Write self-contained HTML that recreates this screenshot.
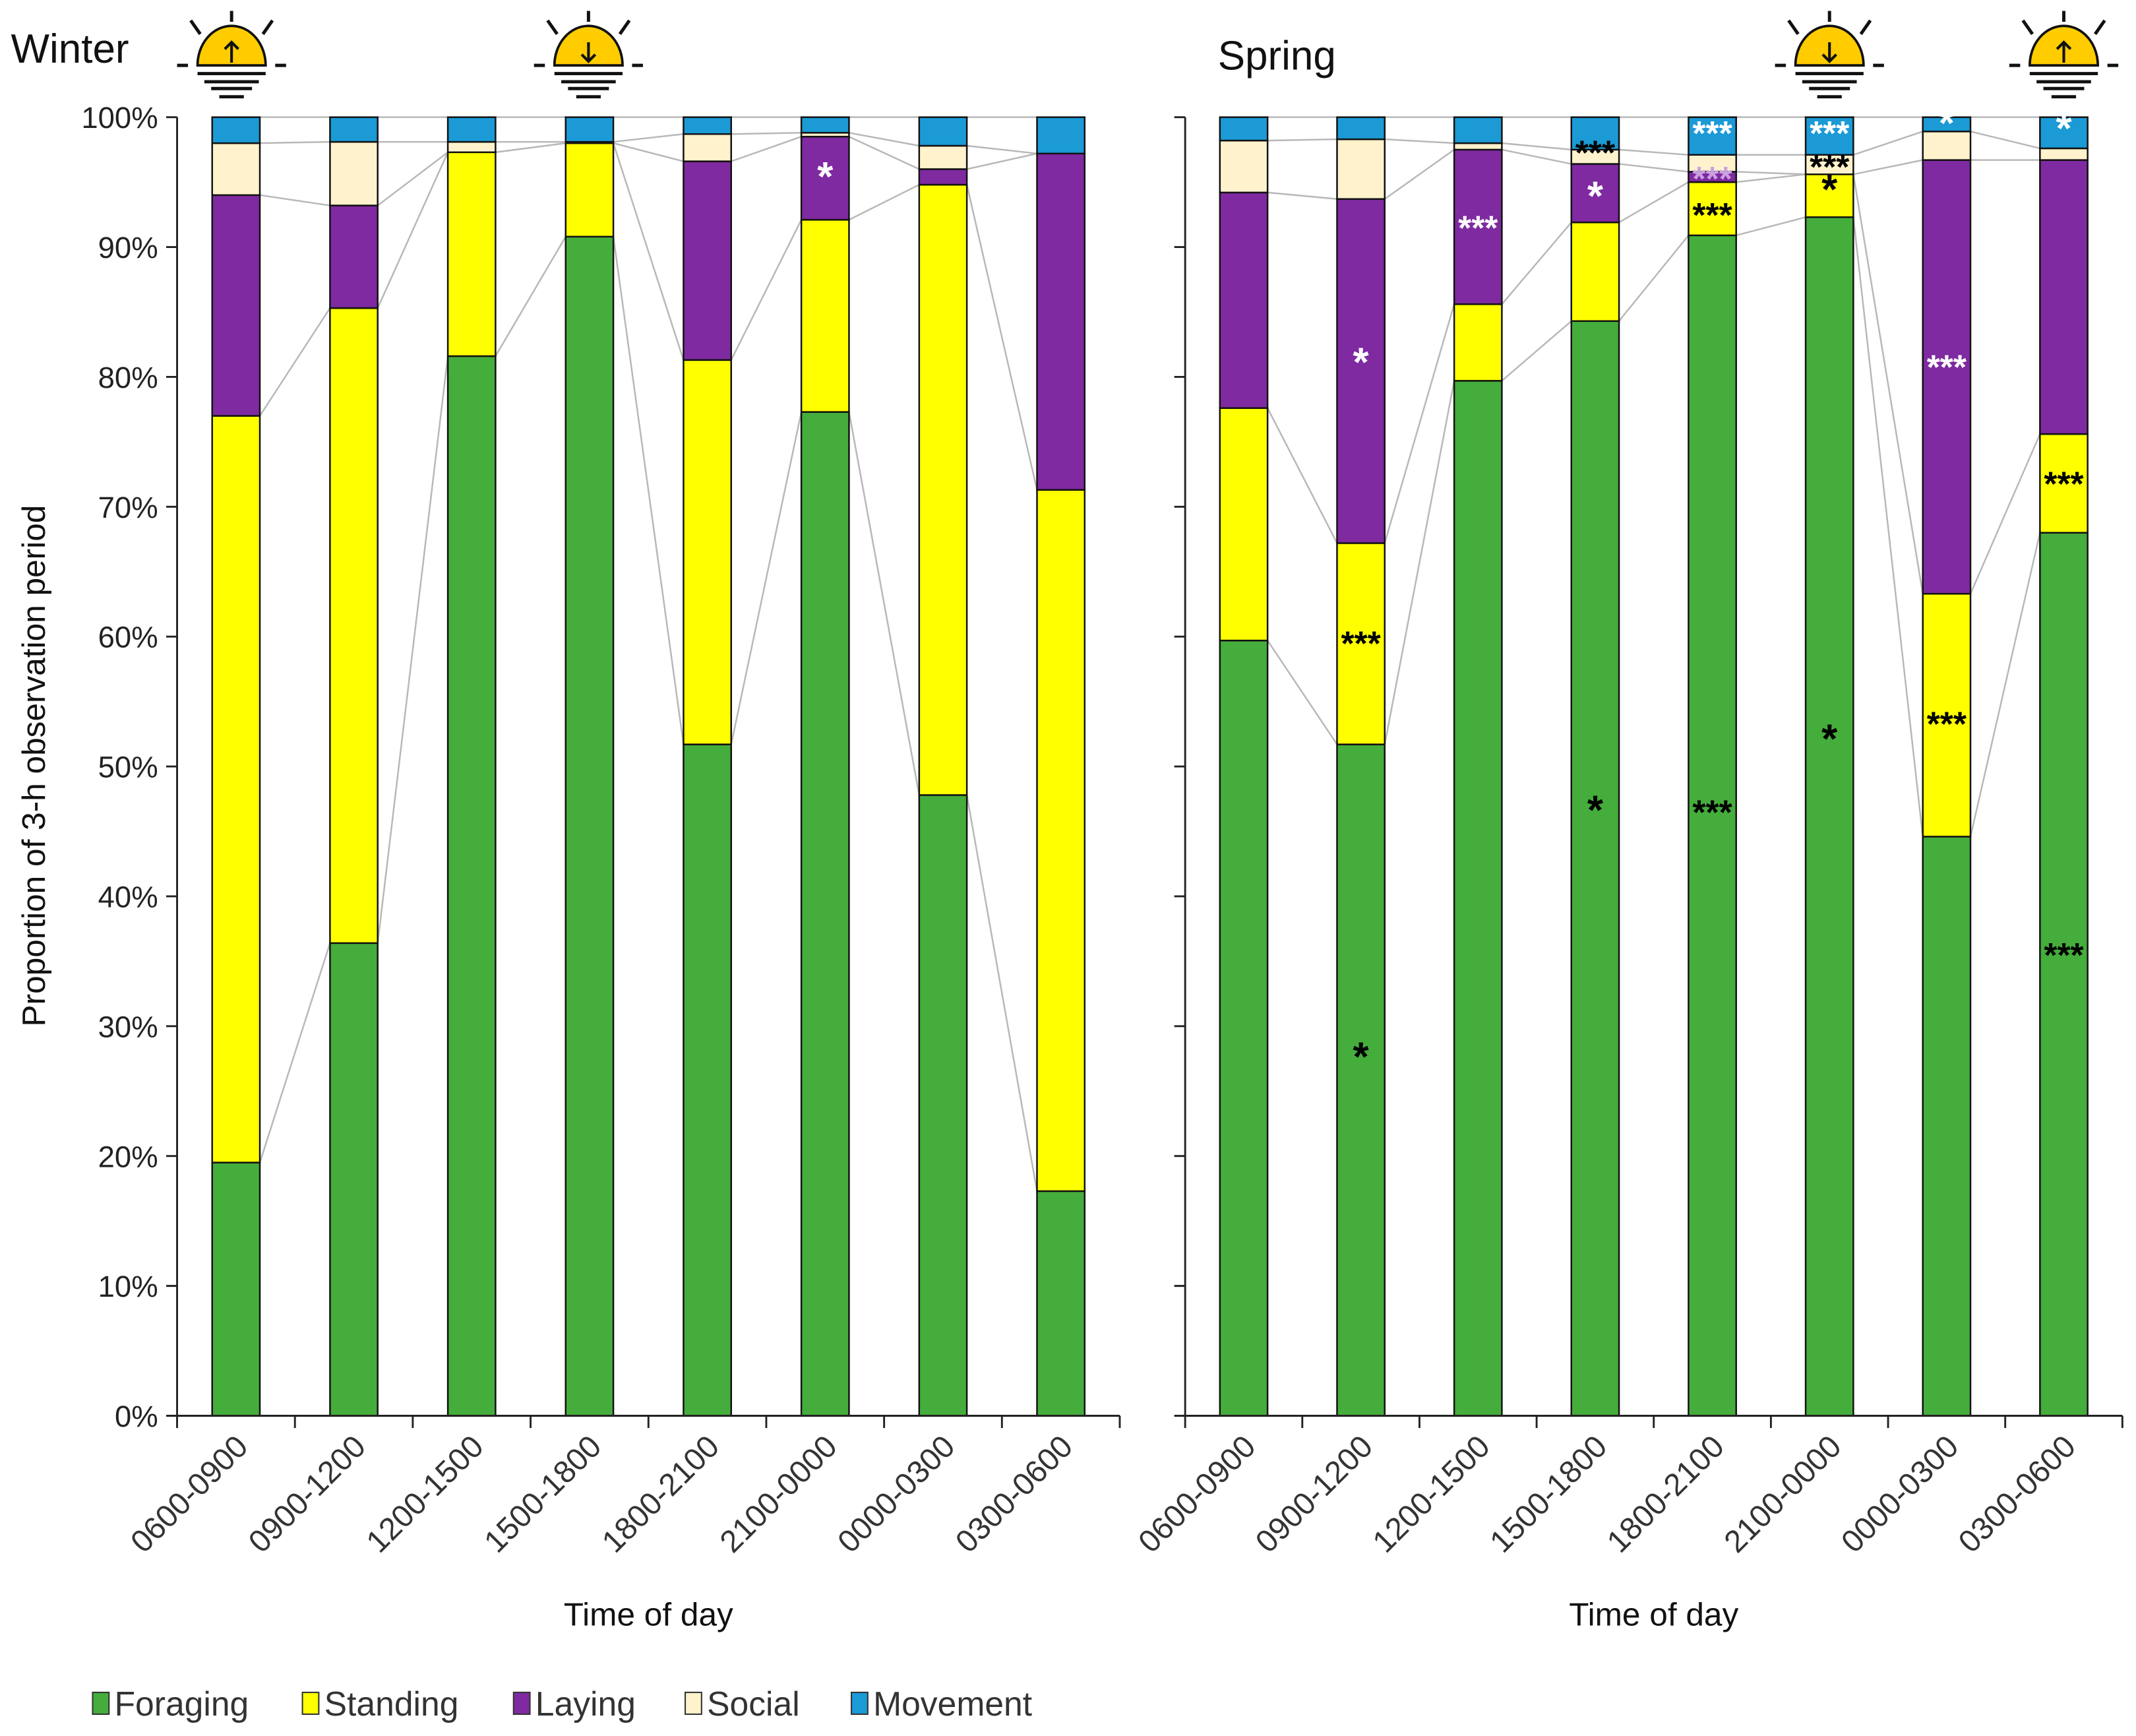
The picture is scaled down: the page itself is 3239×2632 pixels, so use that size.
<!DOCTYPE html>
<html><head><meta charset="utf-8"><style>
html,body{margin:0;padding:0;background:#fff;}
svg{display:block;font-family:"Liberation Sans",Arial,sans-serif;}
</style></head><body>
<svg id="chart" width="3239" height="2632" viewBox="0 0 1568 1274" preserveAspectRatio="none" xmlns="http://www.w3.org/2000/svg"></svg>
<script>
const categories = ["0600-0900","0900-1200","1200-1500","1500-1800","1800-2100","2100-0000","0000-0300","0300-0600"];
const seriesNames = ["Foraging","Standing","Laying","Social","Movement"];
const seriesColors = ["#45ad3b","#ffff00","#7f2aa0","#fff2cc","#1b9ad6"];
// percentages per behaviour (winter)
const winterForaging = [19.5,36.4,81.6,90.8,51.7,77.3,47.8,17.3];
const winterStanding = [57.5,48.9,15.7,7.2,29.6,14.8,47.0,54.0];
const winterLaying   = [17.0,7.9,0.0,0.0,15.3,6.4,1.2,25.9];
const winterSocial   = [4.0,4.9,0.8,0.1,2.1,0.3,1.8,0.0];
const winterMovement = [2.0,1.9,1.9,1.9,1.3,1.2,2.2,2.8];
// spring
const springForaging = [59.7,51.7,79.7,84.3,90.9,92.3,44.6,68.0];
const springStanding = [17.9,15.5,5.9,7.6,4.1,3.3,18.7,7.6];
const springLaying   = [16.6,26.5,11.9,4.5,0.8,0.0,33.4,21.1];
const springSocial   = [4.0,4.6,0.5,1.1,1.3,1.5,2.2,0.9];
const springMovement = [1.8,1.7,2.0,2.5,2.9,2.9,1.1,2.4];
const yTicks = [0,10,20,30,40,50,60,70,80,90,100];
// significance marks: [bar index, y%, label, colour]
const winterMarks = [[5,95.3,"*","#fff"]];
const springMarks = [
 [1,27.5,"*","#000"],[1,59.5,"***","#000"],[1,81,"*","#fff"],
 [2,91.5,"***","#fff"],
 [3,46.5,"*","#000"],[3,93.8,"*","#fff"],[3,97.3,"***","#000"],
 [4,46.5,"***","#000"],[4,92.5,"***","#000"],[4,95.3,"***","#c9a0e0"],[4,98.8,"***","#fff"],
 [5,52,"*","#000"],[5,94.3,"*","#000"],[5,96.2,"***","#000"],[5,98.8,"***","#fff"],
 [6,53.3,"***","#000"],[6,80.8,"***","#fff"],[6,99.4,"*","#fff"],
 [7,35.5,"***","#000"],[7,71.8,"***","#000"],[7,99,"*","#fff"]
];

const NS="http://www.w3.org/2000/svg";
const svg=document.getElementById('chart');
function el(tag,attrs,parent){const e=document.createElementNS(NS,tag);for(const k in attrs)e.setAttribute(k,attrs[k]);(parent||svg).appendChild(e);return e;}
const Y0=1039,Y100=86;
function yScale(v){return Y0-(Y0-Y100)*v/100;}

function drawPanel(x0,x1,data,marks,name,showLabels,titleX){
  const g=el('g',{});
  
  
  const bw=(x1-x0)/categories.length;
  function xc(i){return x0+bw*(i+0.5);}
  const half=17.5;
  const cum=categories.map((c,i)=>{let s=0;return data.map(d=>{s+=d[i];return s;});});
  const lines=el('g',{stroke:'#b8b8b8','stroke-width':1.2,fill:'none'},g);
  
  
  for(let i=0;i<categories.length-1;i++){
    for(let k=0;k<5;k++){
      const v1=k<4?cum[i][k]:100, v2=k<4?cum[i+1][k]:100;
      el('line',{x1:xc(i)+half,y1:yScale(v1),x2:xc(i+1)-half,y2:yScale(v2)},lines);
    }
  }
  categories.forEach((c,i)=>{
    let base=0;
    data.forEach((d,k)=>{
      const v=d[i]; if(v<=0){return;}
      const r=el('rect',{x:xc(i)-half,y:yScale(base+v),width:half*2,height:yScale(base)-yScale(base+v),fill:seriesColors[k],stroke:'#111','stroke-width':1.2},g);
      
      
      base+=v;
    });
  });
  marks.forEach(m=>{
    const t=el('text',{x:xc(m[0]),y:yScale(m[1])+9,'text-anchor':'middle','font-size':m[2]==='*'?30:25,'font-weight':'bold',fill:m[3]},g);
    t.textContent=m[2];
    
    
  });
  const ax=el('g',{stroke:'#222','stroke-width':1.4},g);
  
  
  el('line',{x1:x0,y1:Y100,x2:x0,y2:Y0},ax);
  el('line',{x1:x0,y1:Y0,x2:x1,y2:Y0},ax);
  yTicks.forEach(t=>{
    el('line',{x1:x0-8,y1:yScale(t),x2:x0,y2:yScale(t)},ax);
    if(showLabels){
      const tx=el('text',{x:x0-14,y:yScale(t)+8,'text-anchor':'end','font-size':22,fill:'#222',stroke:'none'},g);
      tx.textContent=t+'%';
      
      
    }
  });
  for(let i=0;i<=categories.length;i++) el('line',{x1:x0+bw*i,y1:Y0,x2:x0+bw*i,y2:Y0+9},ax);
  categories.forEach((c,i)=>{
    const tx=el('text',{x:xc(i)+10,y:Y0+24,'text-anchor':'end','font-size':23,fill:'#333',transform:`rotate(-45 ${xc(i)+10} ${Y0+24})`},g);
    tx.textContent=c;
    
    
  });
  const tt=el('text',{x:titleX,y:1193,'text-anchor':'middle','font-size':24,fill:'#111'},g);
  tt.textContent='Time of day';
  
  
}

function sun(cx,up,name){
  const g=el('g',{stroke:'#111','stroke-width':2.4,fill:'none'});
  
  
  const by=48;
  el('path',{d:`M${cx-25} ${by} A25 29 0 0 1 ${cx+25} ${by} Z`,fill:'#ffcc00','stroke-width':1.8},g);
  el('line',{x1:cx,y1:8,x2:cx,y2:16},g);
  el('line',{x1:cx-30,y1:15,x2:cx-23,y2:25},g);
  el('line',{x1:cx+30,y1:15,x2:cx+23,y2:25},g);
  el('line',{x1:cx-40,y1:48,x2:cx-32,y2:48},g);
  el('line',{x1:cx+32,y1:48,x2:cx+40,y2:48},g);
  el('line',{x1:cx-25,y1:54,x2:cx+25,y2:54},g);
  el('line',{x1:cx-20,y1:60,x2:cx+20,y2:60},g);
  el('line',{x1:cx-15,y1:65,x2:cx+15,y2:65},g);
  el('line',{x1:cx-9,y1:71,x2:cx+9,y2:71},g);
  el('line',{x1:cx,y1:up?46:31,x2:cx,y2:up?31:45,'stroke-width':2},g);
  el('path',{d:up?`M${cx-5} 36 L${cx} 31 L${cx+5} 36`:`M${cx-5} 40 L${cx} 45 L${cx+5} 40`,'stroke-width':2},g);
}

drawPanel(130,822,[winterForaging,winterStanding,winterLaying,winterSocial,winterMovement],winterMarks,'winter',true,476);
drawPanel(870,1558,[springForaging,springStanding,springLaying,springSocial,springMovement],springMarks,'spring',false,1214);

sun(170,true,'sunrise-icon-winter');
sun(432,false,'sunset-icon-winter');
sun(1343,false,'sunset-icon-spring');
sun(1515,true,'sunrise-icon-spring');

let t=el('text',{x:8,y:46,'font-size':30,fill:'#111'});t.textContent='Winter';


t=el('text',{x:894,y:51,'font-size':30,fill:'#111'});t.textContent='Spring';


t=el('text',{x:33,y:562,'text-anchor':'middle','font-size':24,fill:'#111',transform:'rotate(-90 33 562)'});t.textContent='Proportion of 3-h observation period';



const legendX=[68,222,377,503,625];
seriesNames.forEach((n,k)=>{
  const g=el('g',{});
  
  
  el('rect',{x:legendX[k],y:1242,width:12,height:16,fill:seriesColors[k],stroke:'#333','stroke-width':1},g);
  const tx=el('text',{x:legendX[k]+16,y:1259,'font-size':25,fill:'#333'},g);
  tx.textContent=n;
});
</script>
</body></html>
